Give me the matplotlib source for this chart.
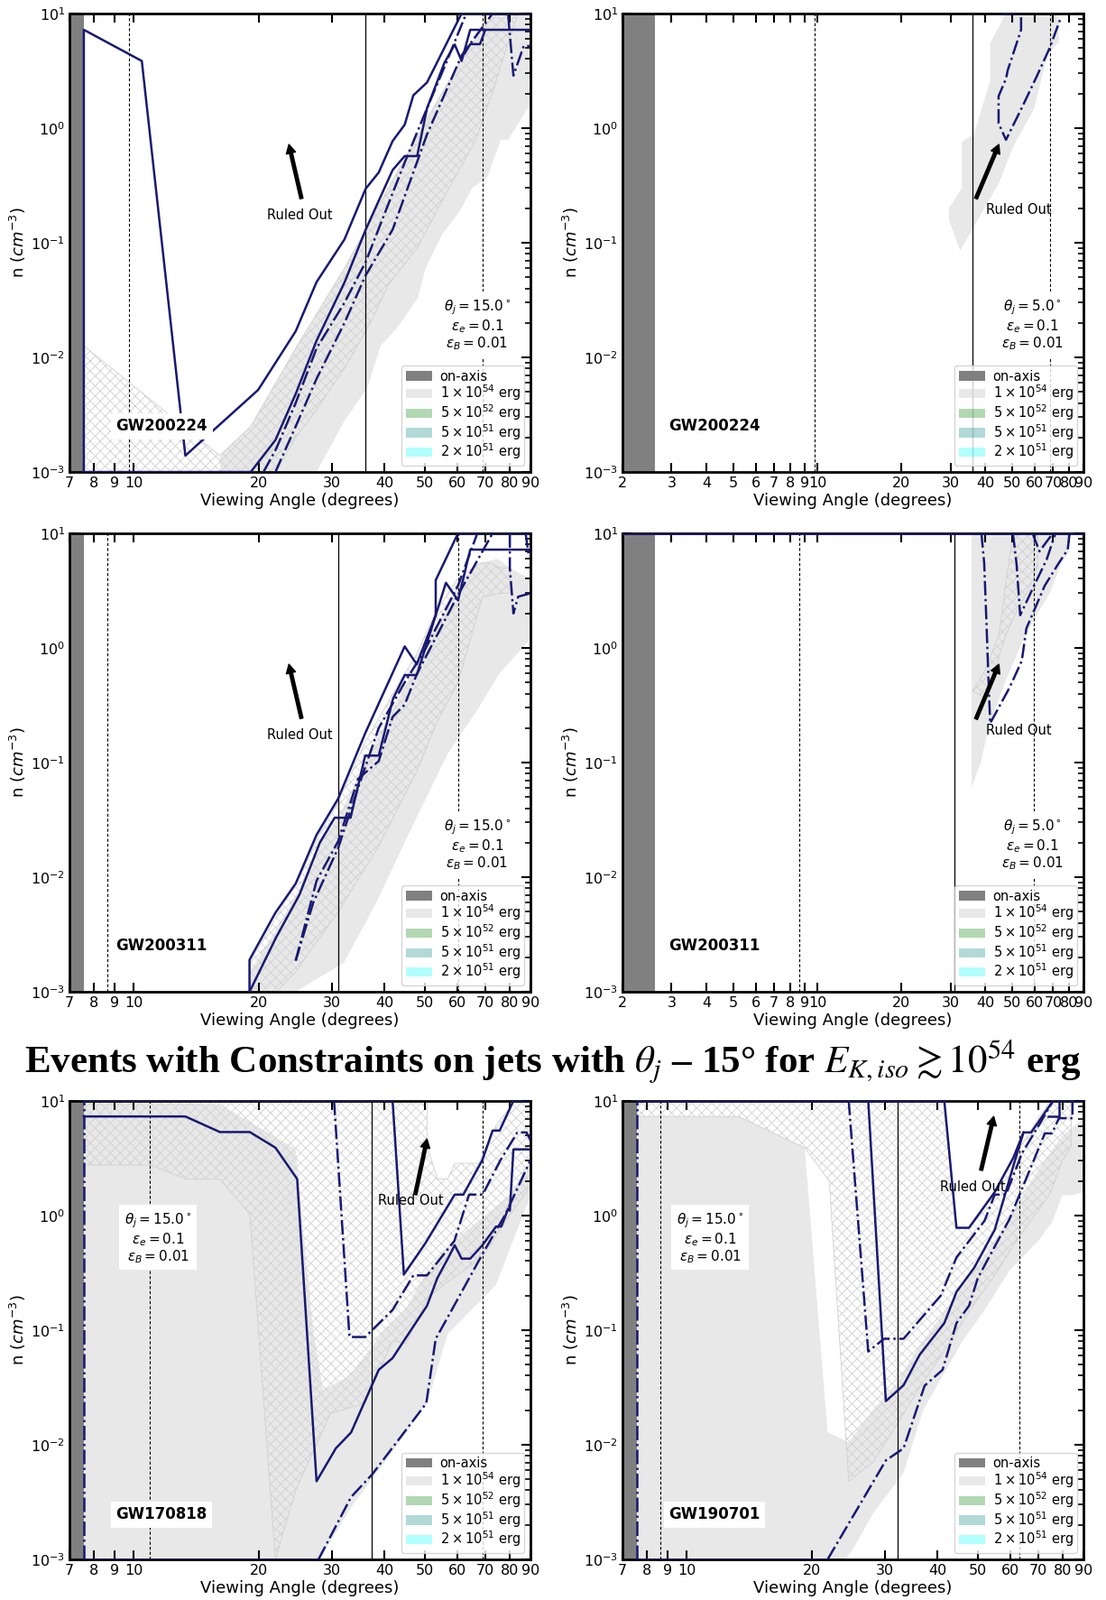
import matplotlib
matplotlib.use('Agg')
import matplotlib.pyplot as plt
from matplotlib.patches import Patch
from matplotlib.ticker import FixedLocator, FixedFormatter, NullLocator, LogLocator, NullFormatter

plt.rcParams['hatch.linewidth'] = 0.6
plt.rcParams['font.family'] = 'DejaVu Sans'

NAVY = '#191970'

# ---- data: viewing angle (deg), density n (cm^-3) ----
ticks_wide = [2, 3, 4, 5, 6, 7, 8, 9, 10, 20, 30, 40, 50, 60, 70, 80, 90]
ticks_narrow = [7, 8, 9, 10, 20, 30, 40, 50, 60, 70, 80, 90]

energy_labels = ['on-axis', r'$1 \times 10^{54}$ erg', r'$5 \times 10^{52}$ erg',
                 r'$5 \times 10^{51}$ erg', r'$2 \times 10^{51}$ erg']
energy_colors = ['gray', 'lightgray', 'green', 'teal', 'cyan']
energy_alpha = [1.0, 0.5, 0.3, 0.3, 0.3]

# GW200224, theta_j = 15
p1_gray = [(16.1, 1e-3), (16.1, 1.39e-3), (19.1, 2.5e-3), (24.5, 0.012), (32.1, 0.06), (41.9, 0.35),
           (50.7, 1.2), (61.4, 4), (72.9, 10), (90, 10), (90, 1.49), (88.5, 1.49), (79.5, 0.79),
           (76.2, 0.79), (70.8, 0.37), (65.1, 0.30), (60.9, 0.191), (55.1, 0.118), (50.3, 0.06),
           (48.2, 0.033), (42.9, 0.018), (39.2, 0.0126), (36.4, 5.4e-3), (32.1, 2.8e-3),
           (27.5, 1e-3)]
p1_hatch = [(7.58, 1e-3), (7.58, 0.0126), (16.1, 1.39e-3), (19.1, 2.5e-3), (24.5, 0.012), (32.1, 0.06),
            (41.9, 0.35), (50.7, 1.2), (61.4, 4), (72.9, 10), (84, 10), (78, 4.5), (73.2, 2.14),
            (66.2, 0.77), (57, 0.29), (48.2, 0.092), (40.8, 0.042), (37.5, 0.0217), (32.1, 8e-3),
            (27.5, 3.5e-3), (24.5, 2e-3), (21.9, 1e-3)]
p1_solid = [
    [(7.58, 1e-3), (7.58, 7.2), (10.45, 3.85), (13.3, 1.39e-3), (19.9, 5.2e-3), (24.5, 0.0169),
     (27.5, 0.0454), (32.1, 0.107), (36.1, 0.296), (38.8, 0.41), (41.9, 0.77), (44.8, 1.07),
     (47, 1.93), (50.7, 2.5), (61.4, 10), (90, 10)],
    [(7.58, 1e-3), (19.1, 1e-3), (21.9, 1.9e-3), (24.5, 4.8e-3), (27.5, 0.014), (32.1, 0.045),
     (36.1, 0.13), (41.9, 0.43), (44.8, 0.57), (48, 0.57), (50.7, 1.49), (55.8, 3.7), (59.1, 5.36),
     (61.4, 3.85), (64.4, 7.2), (90, 7.2)],
    [(62.5, 4.5), (64.4, 5.4), (68, 5.4), (70, 7.2)],
]
p1_dashdot = [
    [(20.5, 1e-3), (22, 1.6e-3), (24.5, 4e-3), (27.5, 0.012), (32.1, 0.03), (36.1, 0.068),
     (41.9, 0.27), (44.8, 0.5), (50.7, 1.49), (56, 3.5), (63, 10)],
    [(21.9, 1e-3), (24.5, 2.5e-3), (27.5, 6.5e-3), (32.1, 0.02), (36.1, 0.052), (41.9, 0.13),
     (50.7, 0.88), (61.4, 4.3), (72.9, 10), (79.4, 10), (81.8, 2.87), (86.6, 5.2), (90, 5.2)],
]

# GW200224, theta_j = 5
p2_gray = [(32.5, 0.085), (29.6, 0.158), (29.6, 0.2), (32.9, 0.3), (32.9, 0.75), (36.5, 0.9),
           (41.6, 2.6), (41.6, 5.5), (47.4, 10), (73.3, 10), (73.3, 5.6), (67, 4.5), (59.8, 1.48),
           (50.5, 0.7), (44.7, 0.33), (36.5, 0.14)]
p2_hatch = []
p2_solid = []
p2_dashdot = [
    [(45.5, 10), (53.7, 10), (53.7, 7.2), (48.1, 3.2), (47.4, 2.69), (44.6, 1.9), (44.6, 1.1),
     (47.4, 0.79), (54, 1.5), (61, 2.8), (68, 5), (74.4, 9.06)],
]

# GW200311, theta_j = 15
p3_gray = [(19, 1e-3), (19, 1.5e-3), (22, 3.5e-3), (25, 8e-3), (28, 0.02), (31, 0.033), (36, 0.1),
           (42, 0.3), (48, 0.7), (53, 1.5), (60, 3.5), (68, 5.5), (75, 6), (80, 5), (90, 4),
           (90, 1.2), (75.7, 0.6), (67.5, 0.3), (56.9, 0.12), (47, 0.029), (38, 5.7e-3),
           (32, 1.8e-3), (24.5, 1e-3)]
p3_hatch = [(19, 1e-3), (19, 1.8e-3), (22, 4.5e-3), (25, 0.01), (28, 0.024), (31, 0.045), (36, 0.15),
            (42, 0.4), (48, 0.9), (53, 2), (60, 4), (68, 5.5), (72, 5.5), (75.7, 5), (80.2, 5),
            (80.2, 3), (75.7, 3), (68.9, 2.77), (60.2, 0.5), (53.7, 0.23), (47.9, 0.084),
            (38.8, 0.0186), (31, 5e-3), (24.5, 1.5e-3), (22, 1e-3)]
p3_solid = [
    [(18.97, 1e-3), (18.97, 1.9e-3), (21.9, 4.9e-3), (24.5, 8.8e-3), (27.5, 0.0234), (31, 0.0485),
     (36, 0.18), (44.8, 1.03), (47.9, 0.72), (53.2, 1.93), (53.2, 3.9), (60.2, 10), (90, 10)],
    [(18.97, 1e-3), (22, 3e-3), (25, 7e-3), (28, 0.02), (30.4, 0.033), (33.2, 0.033), (36, 0.115),
     (38.8, 0.115), (42, 0.36), (44.8, 0.58), (47.9, 0.58), (53.2, 1.93), (56.3, 3.7),
     (60.2, 2.6), (64.4, 7.2), (90, 7.2)],
]
p3_dashdot = [
    [(24.5, 1.87e-3), (27.5, 9.3e-3), (31, 0.0206), (34.6, 0.072), (38.8, 0.103), (41.9, 0.25),
     (44.8, 0.32), (47.9, 0.59), (60.2, 2.9), (72.9, 10)],
    [(24.5, 1.87e-3), (27, 6e-3), (31, 0.018), (34.6, 0.06), (38.8, 0.2), (44.8, 0.5), (50, 0.95),
     (60.2, 3.5), (67, 10)],
    [(80.2, 10), (80.2, 5), (81.8, 2), (84, 2.8), (90, 3.0)],
    [(87.5, 10), (89, 6.5), (90, 6.5)],
]

# GW200311, theta_j = 5
p4_gray = [(35.7, 0.061), (35.7, 10), (80.1, 10), (80.1, 7), (75, 5.5), (68, 3), (60, 1.8),
           (54, 1.1), (47, 0.5), (41, 0.2), (38.5, 0.1)]
p4_hatch = [(35.9, 0.42), (39.8, 0.63), (44.7, 1.3), (48.8, 6.3), (50.2, 10), (61.6, 10),
            (61.6, 5.2), (58.1, 3.5), (51.7, 2.06), (47.4, 1.3), (43.5, 0.67), (39.8, 0.37)]
p4_solid = [[(2, 10), (90, 10)]]
p4_dashdot = [
    [(38.7, 10), (39.6, 5.5), (40.3, 1.8), (40.9, 0.66), (41.6, 0.22), (48.8, 0.45), (54, 0.77),
     (56.1, 1.48), (65.3, 3.5), (73.3, 5.5), (78.9, 7.2), (80.1, 10)],
    [(50.2, 10), (51.7, 5.5), (53.3, 1.93), (59.8, 3.5), (66.3, 5.9), (71.3, 10)],
    [(59, 10), (62.5, 6.96), (69.8, 10)],
]

# GW170818, theta_j = 15
p5_gray = [(7.58, 1e-3), (7.58, 10), (16.1, 9.3), (24.5, 3.8), (25.5, 0.8), (27, 0.1), (28.5, 0.03),
           (33, 0.04), (40, 0.1), (45, 0.15), (50, 0.3), (56, 0.5), (62, 0.7), (70, 1.0),
           (80, 1.5), (90, 3), (90, 1.5), (74.3, 0.248), (56.9, 0.093), (50.7, 0.023),
           (41.9, 8.7e-3), (33.3, 2.85e-3), (28, 1e-3)]
p5_hatch = [(7.58, 2.75), (7.58, 10), (50.7, 10), (50.7, 4.04), (53.7, 2.08), (56.9, 2.08),
            (59.1, 2.85), (67.5, 2.85), (74.3, 6.1), (80.2, 8.7), (81.8, 10), (90, 10), (90, 1.8),
            (80, 1.0), (68.9, 0.43), (56.9, 0.265), (50.7, 0.187), (45.2, 0.076), (41.9, 0.081),
            (36, 0.023), (29.7, 0.0187), (24.5, 4e-3), (21.9, 1e-3), (19, 1.03), (16.1, 2.08),
            (13.3, 2.08), (11, 2.75)]
p5_solid = [
    [(7.58, 7.3), (13.3, 7.3), (16.1, 5.34), (19.0, 5.34), (21.9, 3.9), (24.7, 2.08), (27.5, 4.8e-3),
     (30.6, 9.3e-3), (33.3, 0.0128), (38.8, 0.045), (41.9, 0.057), (45.5, 0.09), (50.7, 0.163),
     (53.7, 0.285), (56.9, 0.42), (59.1, 0.55), (61.4, 0.42), (64.4, 0.42), (68.9, 0.55),
     (74.3, 0.8), (76.5, 0.8), (79.5, 1.15), (80.2, 1.1), (81.8, 3.77), (90, 3.77)],
    [(7.58, 10), (41.9, 10), (44.6, 0.305), (50.2, 0.57), (59.1, 1.52), (62, 1.52), (68.9, 3.05),
     (72.9, 5.5), (75.8, 5.5), (81.8, 10), (90, 10)],
    [(7.58, 1e-3), (27.8, 1e-3)],
]
p5_dashdot = [
    [(7.58, 1e-3), (7.58, 10)],
    [(30.3, 10), (33, 0.087), (36, 0.087), (41.9, 0.15), (47, 0.3), (50.7, 0.3), (59, 0.6),
     (64, 1.52), (69, 1.52), (76, 3.0), (83.6, 5.3), (88, 5.3), (90, 4.5)],
    [(27.8, 1e-3), (33.3, 3.5e-3), (37.4, 5.5e-3), (50.5, 0.023), (53.2, 0.084), (56.9, 0.13),
     (68.9, 0.46), (78, 1.0), (90, 3.05)],
]

# GW190701, theta_j = 15
p6_gray = [(7.6, 1e-3), (7.6, 7.3), (13.3, 7.3), (19.2, 3.9), (21.8, 0.0128), (24.5, 0.0105),
           (28, 0.02), (32, 0.035), (36, 0.07), (42, 0.15), (48, 0.3), (55, 0.6), (62, 1.2),
           (70, 2.5), (80, 5), (90, 7), (90, 1.6), (84.6, 1.5), (80, 1.5), (75.5, 0.87), (70, 0.6),
           (59.7, 0.33), (52, 0.15), (46, 0.08), (42, 0.045), (37, 0.02), (33.2, 5.7e-3),
           (28, 2.5e-3), (25, 1.2e-3), (24, 1e-3)]
p6_hatch = [(7.6, 7.3), (7.6, 10), (41.6, 10), (44.5, 0.78), (47.7, 0.78), (55, 1.6), (62, 3.5),
            (70, 7), (75, 10), (84, 10), (84, 4), (80, 3), (75, 1.6), (70, 1.1), (62, 0.6),
            (55, 0.3), (48, 0.15), (42, 0.07), (36, 0.03), (32, 0.015), (28, 7e-3), (24.5, 4.8e-3),
            (22, 2.0), (19.2, 3.9), (13.3, 7.3)]
p6_solid = [
    [(7.6, 10), (41.6, 10)],
    [(27.3, 10), (30.1, 0.024), (33.2, 0.033), (36.3, 0.061), (41.6, 0.115), (44.5, 0.215),
     (49.1, 0.35), (55, 0.75), (61.5, 3.0), (64.5, 5.3), (67.3, 5.3), (76, 10), (90, 10)],
    [(41.6, 10), (44.5, 0.78), (47.7, 0.78), (55, 1.6), (61, 3.2), (64.5, 5.3)],
    [(74, 7.3), (78.5, 7.3), (78.5, 10)],
    [(7.6, 1e-3), (21.8, 1e-3)],
]
p6_dashdot = [
    [(7.6, 1e-3), (7.6, 10)],
    [(24.5, 10), (27.3, 0.065), (29.8, 0.084), (33.2, 0.084), (40.8, 0.2), (44.5, 0.43), (52, 0.9),
     (55, 1.52), (58.5, 1.52), (64, 3.5), (70, 6), (76, 10)],
    [(21.8, 1e-3), (30.1, 7.3e-3), (33.2, 9.3e-3), (37.3, 0.0327), (41.2, 0.045), (44.5, 0.115),
     (47.7, 0.163), (50.1, 0.285), (59.7, 0.93), (72.6, 5.2), (75.5, 5.2), (78.5, 7.05),
     (84.6, 7.05), (84.6, 10)],
]

panels = [
    dict(event='GW200224', theta=15.0, xlim=(7, 90), ticks=ticks_narrow, onaxis=7.58,
         dashed=[9.74, 68.9], solid_v=[36.1], gray=p1_gray, hatch=p1_hatch,
         solid=p1_solid, dashdot=p1_dashdot, arrow=((25.3, 0.243), (23.6, 0.72)),
         ruled=(25.1, 0.175), params=(0.884, 0.32), label=(0.2, 0.1)),
    dict(event='GW200224', theta=5.0, xlim=(2, 90), ticks=ticks_wide, onaxis=2.61,
         dashed=[9.78, 68.2], solid_v=[35.9], gray=p2_gray, hatch=p2_hatch,
         solid=p2_solid, dashdot=p2_dashdot, arrow=((37.0, 0.243), (44.7, 0.72)),
         ruled=(52.5, 0.193), params=(0.889, 0.32), label=(0.2, 0.1)),
    dict(event='GW200311', theta=15.0, xlim=(7, 90), ticks=ticks_narrow, onaxis=7.58,
         dashed=[8.62, 60.2], solid_v=[31.0], gray=p3_gray, hatch=p3_hatch,
         solid=p3_solid, dashdot=p3_dashdot, arrow=((25.3, 0.243), (23.6, 0.72)),
         ruled=(25.1, 0.175), params=(0.884, 0.32), label=(0.2, 0.1)),
    dict(event='GW200311', theta=5.0, xlim=(2, 90), ticks=ticks_wide, onaxis=2.61,
         dashed=[8.63, 59.8], solid_v=[30.9], gray=p4_gray, hatch=p4_hatch,
         solid=p4_solid, dashdot=p4_dashdot, arrow=((37.0, 0.24), (44.7, 0.72)),
         ruled=(52.5, 0.19), params=(0.889, 0.32), label=(0.2, 0.1)),
    dict(event='GW170818', theta=15.0, xlim=(7, 90), ticks=ticks_narrow, onaxis=7.58,
         dashed=[10.94, 68.9], solid_v=[37.4], gray=p5_gray, hatch=p5_hatch,
         solid=p5_solid, dashdot=p5_dashdot, arrow=((47.5, 1.52), (50.7, 4.64)),
         ruled=(46.4, 1.34), params=(0.192, 0.70), label=(0.2, 0.098)),
    dict(event='GW190701', theta=15.0, xlim=(7, 90), ticks=ticks_narrow, onaxis=7.6,
         dashed=[8.63, 63.0], solid_v=[32.1], gray=p6_gray, hatch=p6_hatch,
         solid=p6_solid, dashdot=p6_dashdot, arrow=((51.0, 2.48), (54.7, 7.3)),
         ruled=(48.6, 1.75), params=(0.19, 0.70), label=(0.2, 0.098)),
]


def xy(points):
    return [p[0] for p in points], [p[1] for p in points]


def draw_panel(ax, p):
    ax.set_xscale('log')
    ax.set_yscale('log')
    ax.set_xlim(*p['xlim'])
    ax.set_ylim(1e-3, 10)

    if p['gray']:
        xs, ys = xy(p['gray'])
        ax.fill(xs, ys, color='lightgray', alpha=0.5, lw=0, zorder=1)
    if p['hatch']:
        xs, ys = xy(p['hatch'])
        ax.fill(xs, ys, facecolor='none', edgecolor='#d0d0d0', hatch='xxx', lw=0.6, zorder=1.5)

    ax.axvspan(p['xlim'][0], p['onaxis'], color='gray', lw=0, zorder=2)

    for line in p['solid']:
        xs, ys = xy(line)
        ax.plot(xs, ys, color=NAVY, lw=1.8, ls='-', zorder=3)
    for line in p['dashdot']:
        xs, ys = xy(line)
        ax.plot(xs, ys, color=NAVY, lw=1.8, ls='-.', zorder=3)

    for v in p['dashed']:
        ax.axvline(v, color='k', ls='--', lw=0.8, dashes=(3, 2), zorder=2.5)
    for v in p['solid_v']:
        ax.axvline(v, color='k', lw=0.9, zorder=2.5)

    tail, head = p['arrow']
    ax.annotate('', xy=head, xytext=tail,
                arrowprops=dict(facecolor='black', edgecolor='black', width=2.5,
                                headwidth=7.5, headlength=7, shrink=0), zorder=4)
    ax.text(p['ruled'][0], p['ruled'][1], 'Ruled Out', ha='center', va='center',
            fontsize=10.5, zorder=4)

    txt = (r'$\theta_j = %.1f^\circ$' % p['theta'] + '\n' + r'$\varepsilon_e = 0.1$' + '\n'
           + r'$\varepsilon_B = 0.01$')
    ax.text(p['params'][0], p['params'][1], txt, transform=ax.transAxes, ha='center',
            va='center', multialignment='center', fontsize=11, linespacing=1.05,
            bbox=dict(facecolor='white', edgecolor='none', pad=4), zorder=5)
    ax.text(p['label'][0], p['label'][1], p['event'], transform=ax.transAxes, ha='center',
            va='center', fontsize=12, fontweight='bold',
            bbox=dict(facecolor='white', edgecolor='none', pad=4), zorder=5)

    handles = [Patch(facecolor=c, alpha=a, edgecolor='none', label=l)
               for c, a, l in zip(energy_colors, energy_alpha, energy_labels)]
    leg = ax.legend(handles=handles, loc='lower right', fontsize=10.5, handlelength=2.0,
                    labelspacing=0.0, borderpad=0.3, handletextpad=0.6)
    leg.set_zorder(6)

    ax.xaxis.set_major_locator(FixedLocator(p['ticks']))
    ax.xaxis.set_major_formatter(FixedFormatter([str(t) for t in p['ticks']]))
    ax.xaxis.set_minor_locator(NullLocator())
    ax.yaxis.set_major_locator(LogLocator(base=10, numticks=10))
    ax.yaxis.set_minor_locator(LogLocator(base=10, subs=range(2, 10), numticks=10))
    ax.yaxis.set_minor_formatter(NullFormatter())
    ax.tick_params(which='both', direction='in', top=True, right=True, labelsize=11.5)
    ax.tick_params(which='major', length=7, width=1.5)
    ax.tick_params(which='minor', length=4, width=1.2)
    for s in ax.spines.values():
        s.set_linewidth(2)
    ax.set_xlabel('Viewing Angle (degrees)', fontsize=13, labelpad=2)
    ax.set_ylabel(r'n ($cm^{-3}$)', fontsize=13, labelpad=2)


fig = plt.figure(figsize=(12.26, 17.73), dpi=100)
lefts = [0.0628, 0.5628]
bottoms = [0.7050, 0.3801, 0.0254]
for i, p in enumerate(panels):
    ax = fig.add_axes([lefts[i % 2], bottoms[i // 2], 0.4170, 0.2866])
    draw_panel(ax, p)

fig.text(0.5, 0.3361,
         r'Events with Constraints on jets with $\theta_j$ – 15° for $E_{K,iso} \gtrsim 10^{54}$ erg',
         ha='center', va='center', fontsize=31, fontweight='bold', family='Liberation Serif',
         math_fontfamily='stix')

fig.savefig('out.png', dpi=100)
